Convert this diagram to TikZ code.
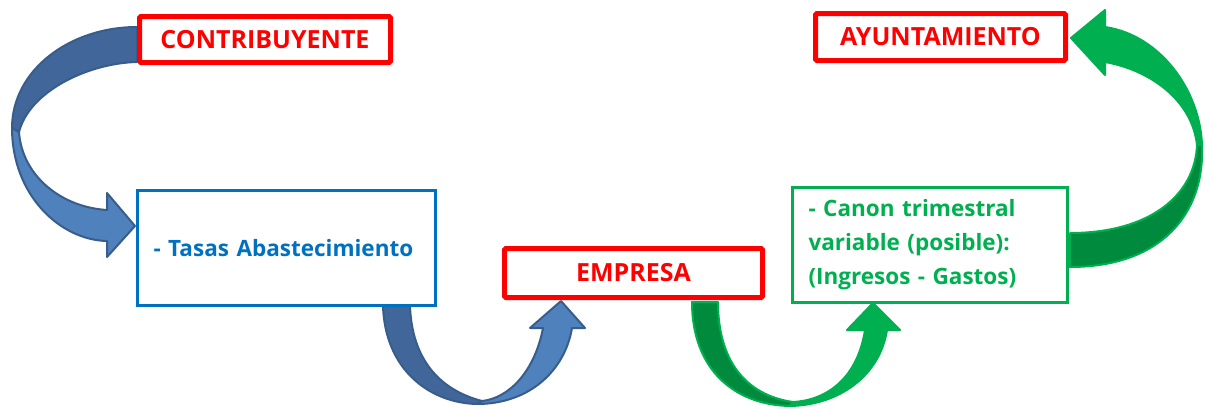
\documentclass[tikz,border=0pt]{standalone}
\usepackage{fontspec}
\setmainfont{Open Sans}
\definecolor{rd}{HTML}{FF0000}
\definecolor{bltxt}{HTML}{0070C0}
\definecolor{grtxt}{HTML}{00B050}
\definecolor{bllight}{HTML}{4F81BD}
\definecolor{bldark}{HTML}{41679A}
\definecolor{blline}{HTML}{385D8A}
\definecolor{grlight}{HTML}{00B050}
\definecolor{grdark}{HTML}{008A3E}
\begin{document}
\begin{tikzpicture}[x=1pt,y=-1pt,
  lbl/.style={font=\fontsize{22.5}{34}\selectfont\bfseries},
  redbox/.style={font=\fontsize{25}{30}\selectfont\bfseries, draw=rd, line width=5pt, fill=white, text=rd, rounded corners=1.5pt, inner sep=0pt},
  infobox/.style={lbl, line width=3pt, fill=white, inner xsep=16pt, inner ysep=0pt, align=left},
  blueL/.style={fill=bllight, draw=blline, line width=2pt, line join=round},
  blueD/.style={fill=bldark, draw=blline, line width=2pt, line join=round},
  greenL/.style={fill=grlight, draw=grlight, line width=2pt, line join=round},
  greenD/.style={fill=grdark, draw=grlight, line width=2pt, line join=round}]
\useasboundingbox (0,0) rectangle (1205,408);

% blue arrow 1 (contribuyente -> tasas)
\path[blueD] (137,27) .. controls (70,27) and (12,70) .. (12,128) -- (19,132) .. controls (30,90) and (90,63) .. (137,62) -- cycle;
\path[blueL] (12,128) .. controls (12,195) and (60,240) .. (107,241) -- (107,257) -- (135,226) -- (107,193) -- (107,210) .. controls (60,207) and (22,175) .. (19,132) -- cycle;

% blue arrow 2 (tasas -> empresa)
\path[blueD] (383,306) .. controls (385,370) and (430,403) .. (477,404) -- (482,401) .. controls (440,390) and (412,360) .. (410,306) -- cycle;
\path[blueL] (477,404) .. controls (530,404) and (565,370) .. (572,328) -- (585,328) -- (561,301) -- (530,328) -- (543,328) .. controls (535,370) and (510,398) .. (482,401) -- cycle;

% green arrow 1 (empresa -> canon)
\path[greenD] (692,302) .. controls (692,370) and (735,405) .. (790,406) -- (793,402) .. controls (745,395) and (718,360) .. (718,302) -- cycle;
\path[greenL] (790,406) .. controls (840,405) and (880,375) .. (887,330) -- (900,330) -- (873,303) -- (847,330) -- (865,330) .. controls (858,375) and (830,400) .. (793,402) -- cycle;

% green arrow 2 (canon -> ayuntamiento)
\path[greenD] (1070,233) .. controls (1150,233) and (1195,195) .. (1197,145) -- (1202,145) .. controls (1205,215) and (1160,267) .. (1070,267) -- cycle;
\path[greenL] (1202,145) .. controls (1200,90) and (1160,35) .. (1105,27) -- (1105,10) -- (1071,38) -- (1105,75) -- (1105,62) .. controls (1150,70) and (1192,100) .. (1197,145) -- cycle;

% boxes
\node[redbox, minimum width=251pt, minimum height=46pt] (contrib) at (265,39.5) {CONTRIBUYENTE};
\node[redbox, minimum width=250pt, minimum height=47pt] (ayunt) at (940.5,37) {AYUNTAMIENTO};
\node[redbox, minimum width=258pt, minimum height=49pt] (empresa) at (633.5,273) {EMPRESA};
\node[infobox, draw=bltxt, text=bltxt, minimum height=115pt, text width=266pt] (tasas) at (286.5,248) {- Tasas Abastecimiento};
\node[infobox, draw=grtxt, text=grtxt, minimum height=115pt, text width=243pt] (canon) at (930,245) {- Canon trimestral\\variable (posible):\\(Ingresos - Gastos)};
\end{tikzpicture}
\end{document}
